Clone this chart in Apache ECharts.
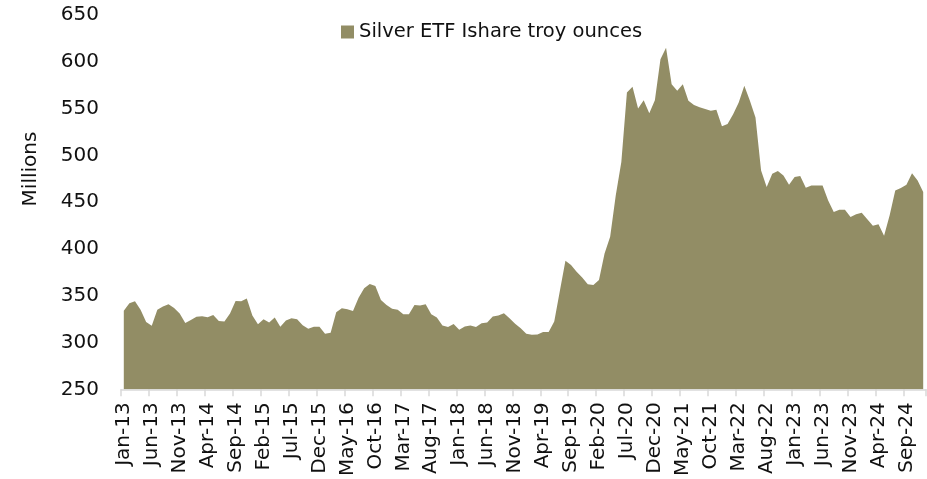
<!DOCTYPE html>
<html>
<head>
<meta charset="utf-8">
<script src="https://cdn.jsdelivr.net/npm/echarts@6/dist/echarts.min.js"></script>
<style>
html,body{margin:0;padding:0;background:#fff;}
#c{width:927px;height:479px;}
</style>
</head>
<body>
<div id="c"></div>
<script>
const months = ['Jan','Feb','Mar','Apr','May','Jun','Jul','Aug','Sep','Oct','Nov','Dec'];
const years = [13,14,15,16,17,18,19,20,21,22,23,24];
const categories = [];
years.forEach(function(y){ months.forEach(function(m){ categories.push(m + '-' + y); }); });

const seriesName = 'Silver ETF Ishare troy ounces';
const axisTitle = 'Millions';
const silverOunces = [
  334, 342, 344, 335, 322, 318, 335, 338.5, 341, 337, 331, 321,
  324, 327.5, 328, 327, 329.5, 323, 322.5, 331, 344.5, 344, 347, 329,
  319.5, 325, 321.5, 326.8, 317, 323.5, 326, 325, 318.5, 314.7, 317, 317,
  309.4, 310.4, 332.4, 336.7, 335.6, 333.8, 348, 358, 362.6, 360.4, 345.5, 340,
  336, 335, 330.3, 330.3, 340.2, 339.5, 341, 330.3, 326.8, 318.3, 316.5, 319.7,
  313.6, 317.2, 318.3, 316.5, 320.7, 321.5, 327.9, 329, 331.4, 326, 320, 315.4,
  309.4, 308.3, 308.5, 311.2, 311.2, 322.5, 355, 387.4, 382.8, 375.7, 369.4, 362.2,
  361.5, 366.8, 395.2, 413, 457.2, 492.8, 567.2, 573.2, 550.2, 559, 544.9, 559,
  602.7, 615.1, 576, 569, 576, 558.3, 553.7, 551.3, 549.5, 547.7, 548.7, 531,
  533.5, 544, 556.6, 574.3, 558.3, 540.6, 483.8, 466.2, 480.3, 483.2, 478.5, 468.6,
  476.8, 477.9, 465.4, 467.9, 467.9, 467.9, 451.9, 439.6, 442, 442, 434.2, 437,
  438.8, 431.7, 424.7, 426.4, 414, 436, 462.6, 465.1, 468.6, 481, 473.2, 460.8
];
const yMin = 250, yMax = 650, yStep = 50;

const FONT = '"DejaVu Sans", "Noto Sans", sans-serif';
const chart = echarts.init(document.getElementById('c'), null, {renderer: 'canvas'});
chart.setOption({
  animation: false,
  backgroundColor: '#ffffff',
  textStyle: {fontFamily: FONT},
  legend: {
    data: [seriesName],
    left: 336, top: 17,
    itemWidth: 13, itemHeight: 13, itemGap: 6,
    icon: 'rect',
    textStyle: {fontSize: 19.5, color: '#111', fontFamily: FONT}
  },
  graphic: [{
    type: 'text',
    x: 31, y: 169,
    rotation: Math.PI / 2,
    style: {
      text: axisTitle,
      font: '20px "DejaVu Sans", sans-serif',
      fill: '#111',
      align: 'center',
      verticalAlign: 'middle'
    }
  }],
  grid: {left: 121, right: 1, top: 15, bottom: 87.5, containLabel: false},
  xAxis: {
    type: 'category',
    data: categories,
    boundaryGap: true,
    axisLine: {show: true, lineStyle: {color: '#d9d9d9', width: 1.5}},
    axisTick: {show: true, interval: 4, length: 7, lineStyle: {color: '#d9d9d9', width: 1.5}},
    axisLabel: {interval: 4, rotate: 90, margin: 13, fontSize: 20, color: '#111', fontFamily: FONT}
  },
  yAxis: {
    type: 'value',
    min: yMin, max: yMax, interval: yStep,
    axisLine: {show: false},
    axisTick: {show: false},
    splitLine: {show: false},
    axisLabel: {fontSize: 20, color: '#111', margin: 22, fontFamily: FONT}
  },
  series: [{
    name: seriesName,
    type: 'line',
    data: silverOunces,
    symbol: 'none',
    lineStyle: {width: 0},
    areaStyle: {color: '#928d65', opacity: 1},
    itemStyle: {color: '#928d65'}
  }]
});
</script>
</body>
</html>
